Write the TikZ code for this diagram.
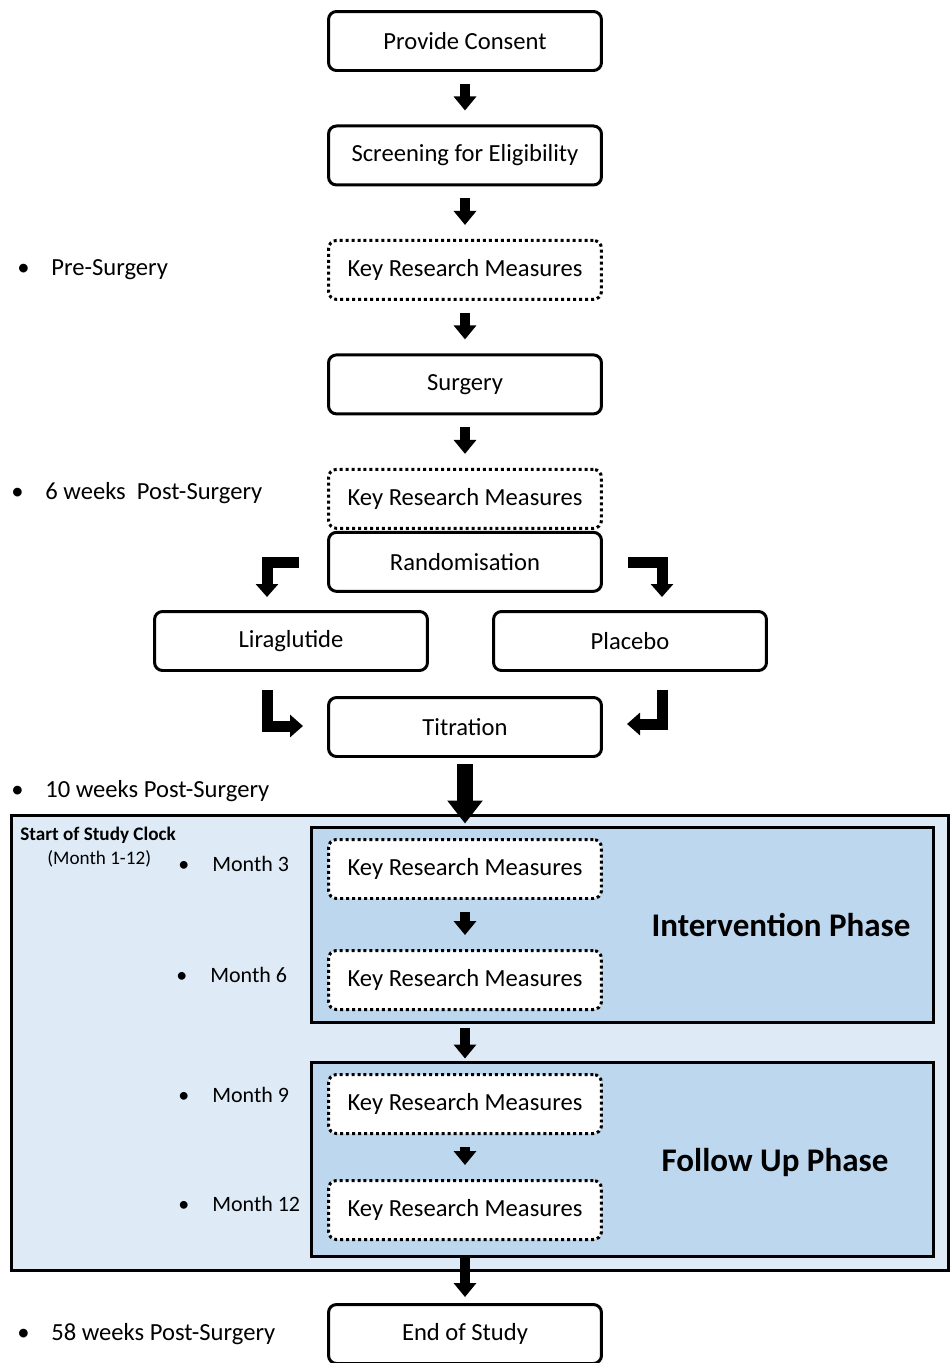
\documentclass[tikz,border=0pt]{standalone}
\usepackage{fontspec}
\setmainfont{Carlito}
\usepackage{xcolor}
\usetikzlibrary{arrows.meta,positioning}

\definecolor{clockblue}{HTML}{DEEBF7}
\definecolor{phaseblue}{HTML}{BDD7EE}
\newcommand{\bitem}[1]{\makebox[0.68cm][l]{\textbullet}#1}

\begin{document}
\begin{tikzpicture}[
    x=0.02cm, y=-0.02cm,
    node distance=1.05cm,
    box/.style={rectangle, draw, rounded corners=0.16cm, line width=1.7pt, fill=white, minimum width=5.46cm, minimum height=1.18cm, align=center, font=\fontsize{14}{16}\selectfont},
    dotbox/.style={box, dash pattern=on 1.7pt off 1.7pt},
    panel/.style={rectangle, draw, line width=1.7pt, inner sep=0pt, outer sep=0pt},
    side/.style={anchor=west, inner sep=0pt, font=\fontsize{14}{16}\selectfont},
    month/.style={side, font=\fontsize{12.5}{15}\selectfont},
    phase/.style={font=\fontsize{18.8}{22}\bfseries},
    arrow/.style={-{Triangle[width=0.44cm,length=0.28cm]}, line width=0.2cm, shorten <=0.24cm, shorten >=0.28cm},
    bigarrow/.style={-{Triangle[width=0.68cm,length=0.46cm]}, line width=0.32cm},
    elbow/.style={-{Triangle[width=0.44cm,length=0.26cm]}, line width=0.22cm, line join=miter}
]
    \useasboundingbox (0,0) rectangle (952,1363);

    % study clock panels
    \node[panel, fill=clockblue, minimum width=18.74cm, minimum height=9.1cm] (clock) at (480,1043) {};
    \node[panel, fill=phaseblue, minimum width=12.44cm, minimum height=3.9cm] (interv) at (622.5,925) {};
    \node[panel, fill=phaseblue, minimum width=12.44cm, minimum height=3.88cm] (follow) at (622.5,1159.5) {};

    % main chain
    \node[box] (consent) at (465,41) {Provide Consent};
    \node[box, below=of consent] (screen) {Screening for Eligibility};
    \node[dotbox, below=of screen] (krmpre) {Key Research Measures};
    \node[box, below=of krmpre] (surgery) {Surgery};
    \node[dotbox, below=of surgery] (krmsix) {Key Research Measures};
    \node[box, below=0.02cm of krmsix] (rand) {Randomisation};
    \node[box] (lira) at (291,641) {Liraglutide};
    \node[box] (placebo) at (630,641) {Placebo};
    \node[box] (titr) at (465,727) {Titration};

    \node[dotbox] (krmthree) at (465,869) {Key Research Measures};
    \node[dotbox] (krmsixm) at (465,980) {Key Research Measures};
    \node[dotbox] (krmnine) at (465,1104) {Key Research Measures};
    \node[dotbox] (krmtwelve) at (465,1210) {Key Research Measures};
    \node[box] (endstudy) at (465,1334) {End of Study};

    % phase titles
    \node[phase] (intervtitle) at (781,925) {Intervention Phase};
    \node[phase] (followtitle) at (775,1162) {Follow Up Phase};

    % time points
    \node[side] (pre) at (17,270) {\bitem{Pre-Surgery}};
    \node[side] (sixwk) at (11,493) {\bitem{6 weeks\ \ Post-Surgery}};
    \node[side] (tenwk) at (11,791) {\bitem{10 weeks Post-Surgery}};
    \node[side, font=\fontsize{10.9}{13}\bfseries] (clockname) at (20,835) {Start of Study Clock};
    \node[side, font=\fontsize{10.9}{13}\selectfont] (clockrange) at (47,859) {(Month 1-12)};
    \node[month] (mthree) at (178,864) {\bitem{Month 3}};
    \node[month] (msix) at (176,975) {\bitem{Month 6}};
    \node[month] (mnine) at (178,1095) {\bitem{Month 9}};
    \node[month] (mtwelve) at (178,1204) {\bitem{Month 12}};
    \node[side] (fiftyeight) at (17,1334) {\bitem{58 weeks Post-Surgery}};

    % arrows
    \draw[arrow] (consent) -- (screen);
    \draw[arrow] (screen) -- (krmpre);
    \draw[arrow] (krmpre) -- (surgery);
    \draw[arrow] (surgery) -- (krmsix);
    \draw[arrow] (krmthree) -- (krmsixm);
    \draw[arrow] (krmnine) -- (krmtwelve);
    \draw[arrow, shorten <=0.12cm, shorten >=0.08cm] (interv.south -| krmsixm) -- (follow.north -| krmsixm);
    \draw[arrow, shorten <=0pt, shorten >=0.12cm] (follow.south -| endstudy) -- (endstudy);
    \draw[bigarrow, shorten <=0.12cm, shorten >=-0.16cm] (titr) -- (clock.north -| titr);

    \coordinate (ltop) at (299,562);
    \coordinate (lend) at (267,597);
    \coordinate (rtop) at (628,562);
    \coordinate (rend) at (662,597);
    \coordinate (lbot) at (267,690);
    \coordinate (ltip) at (303,726);
    \coordinate (rbot) at (662,690);
    \coordinate (rtip) at (627,724);
    \draw[elbow] (ltop) -| (lend);
    \draw[elbow] (rtop) -| (rend);
    \draw[elbow] (lbot) |- (ltip);
    \draw[elbow] (rbot) |- (rtip);
\end{tikzpicture}
\end{document}
